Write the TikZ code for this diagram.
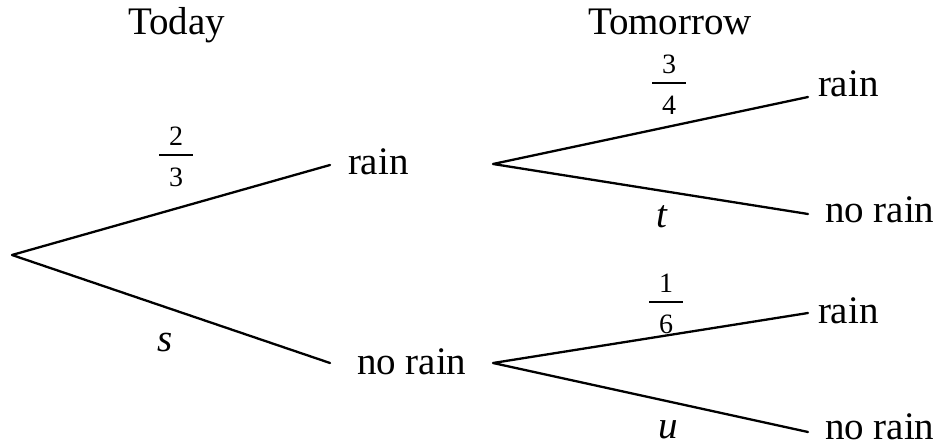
\documentclass[tikz,border=0pt]{standalone}
\usepackage{fontspec}
\setmainfont{Liberation Serif}
\newcommand\pfrac[2]{{\fontsize{28}{28}\selectfont\setlength\arrayrulewidth{1.6pt}\begin{tabular}{@{\hspace{10pt}}c@{\hspace{10pt}}}#1\\\hline\rule{0pt}{31pt}#2\end{tabular}}}
\tikzset{
  lbl/.style={inner sep=0pt, outer sep=0pt, anchor=base west},
  var/.style={inner sep=0pt, outer sep=0pt, anchor=center, font=\fontsize{39}{46}\selectfont\itshape},
  frc/.style={inner sep=0pt, outer sep=0pt, anchor=north},
  branch/.style={line width=2.3pt, line cap=round, line join=round}
}
\begin{document}
\begin{tikzpicture}[x=1pt, y=-1pt, font=\fontsize{39}{46}\selectfont]
\useasboundingbox (0,0) rectangle (944,446);
% headings
\node[lbl] (today) at (128,35) {Today};
\node[lbl] (tomorrow) at (588,35) {Tomorrow};
% outcome labels
\node[lbl] (rainA) at (348,175) {rain};
\node[lbl] (norainA) at (357,374) {no rain};
\node[lbl] (rainB) at (818,97) {rain};
\node[lbl] (norainB) at (825,223) {no rain};
\node[lbl] (rainC) at (818,323) {rain};
\node[lbl] (norainC) at (825,439) {no rain};
% branch points
\coordinate (root) at (12,255);
\coordinate (a1) at (330,165);
\coordinate (b1) at (330,363);
\coordinate (a2) at (493,164);
\coordinate (b2) at (493,363);
\coordinate (ar) at (808,97);
\coordinate (an) at (808,214);
\coordinate (br) at (808,313);
\coordinate (bn) at (808,432);
% branches
\draw[branch] (a1) -- (root) -- (b1);
\draw[branch] (ar) -- (a2) -- (an);
\draw[branch] (br) -- (b2) -- (bn);
% probabilities
\node[frc] (p23) at (176,126) {\pfrac{2}{3}};
\node[frc] (p34) at (669,54) {\pfrac{3}{4}};
\node[frc] (p16) at (666,273) {\pfrac{1}{6}};
\node[var] (s) at (165,343) {s};
\node[var] (t) at (662,217) {t};
\node[var] (u) at (668,430) {u};
\end{tikzpicture}
\end{document}
